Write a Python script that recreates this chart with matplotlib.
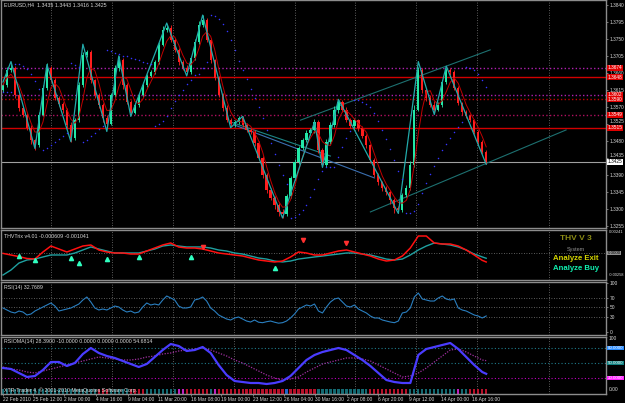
import matplotlib
matplotlib.use("Agg")
import matplotlib.pyplot as plt
import matplotlib.transforms as mtransforms
import numpy as np
import pandas as pd

plt.rcParams["font.family"] = ["Liberation Sans", "DejaVu Sans"]

# ---------------- price data (EURUSD H4, one candle per slot) ----------------
first_open = 1.3615
close = [1.3628, 1.3668, 1.3673, 1.3602, 1.3567, 1.3549, 1.3514, 1.3482, 1.3469, 1.3549,
         1.3620, 1.3673, 1.3641, 1.3594, 1.3578, 1.3562, 1.3522, 1.3488, 1.3535, 1.3628,
         1.3707, 1.3715, 1.3641, 1.3602, 1.3575, 1.3541, 1.3525, 1.3602, 1.3673, 1.3694,
         1.3628, 1.3583, 1.3554, 1.3575, 1.3602, 1.3628, 1.3652, 1.3662, 1.3689, 1.3734,
         1.3774, 1.3779, 1.3747, 1.3721, 1.3689, 1.3673, 1.3662, 1.3700, 1.3742, 1.3787,
         1.3800, 1.3747, 1.3694, 1.3647, 1.3602, 1.3567, 1.3535, 1.3525, 1.3530, 1.3541,
         1.3522, 1.3509, 1.3504, 1.3475, 1.3435, 1.3390, 1.3350, 1.3329, 1.3310, 1.3292,
         1.3287, 1.3334, 1.3382, 1.3424, 1.3461, 1.3482, 1.3501, 1.3509, 1.3530, 1.3456,
         1.3416, 1.3477, 1.3522, 1.3562, 1.3583, 1.3562, 1.3535, 1.3520, 1.3535, 1.3514,
         1.3493, 1.3469, 1.3430, 1.3390, 1.3371, 1.3355, 1.3345, 1.3324, 1.3302, 1.3297,
         1.3337, 1.3355, 1.3416, 1.3562, 1.3668, 1.3615, 1.3594, 1.3575, 1.3562, 1.3575,
         1.3636, 1.3668, 1.3662, 1.3620, 1.3580, 1.3556, 1.3546, 1.3535, 1.3504, 1.3477,
         1.3451, 1.3425]
wick_up = [6, 8, 10, 5, 4, 6, 5, 7, 4, 8, 9, 12, 6, 5, 4, 6, 5, 7, 6, 8,
           9, 6, 5, 4, 6, 5, 7, 4, 8, 10, 6, 5, 4, 6, 5, 7, 4, 6, 5, 8,
           9, 10, 7, 5, 6, 4, 8, 6, 7, 10, 12, 6, 5, 4, 6, 5, 7, 6, 5, 4,
           6, 5, 4, 6, 5, 4, 5, 6, 4, 5, 7, 5, 6, 8, 6, 5, 7, 6, 9, 5,
           6, 7, 8, 10, 6, 5, 7, 6, 5, 4, 6, 5, 4, 5, 6, 4, 5, 6, 5, 7,
           6, 8, 12, 14, 7, 6, 5, 8, 10, 9, 6, 5, 4, 6, 5, 4, 5, 6, 4, 5,
           6, 4]
wick_dn = [5, 4, 6, 8, 7, 5, 6, 9, 12, 6, 4, 5, 6, 7, 5, 8, 9, 10, 6, 4,
           5, 6, 7, 8, 9, 11, 5, 4, 6, 8, 10, 6, 5, 4, 5, 6, 5, 4, 6, 5,
           4, 5, 6, 5, 7, 6, 5, 4, 5, 6, 5, 6, 7, 5, 6, 8, 6, 5, 7, 6,
           5, 6, 7, 8, 6, 7, 8, 6, 9, 12, 10, 6, 5, 6, 5, 4, 6, 5, 8, 9,
           5, 4, 5, 6, 7, 5, 6, 5, 6, 7, 6, 7, 8, 6, 7, 8, 9, 10, 12, 9,
           6, 5, 6, 5, 4, 7, 8, 6, 5, 4, 5, 6, 7, 5, 6, 7, 6, 5, 6, 7,
           5, 6]

# zigzag pivots
zz_idx = [0, 2, 8, 11, 17, 20, 26, 29, 32, 41, 46, 50, 57, 60, 70, 78, 80, 84, 99, 104, 108, 111, 121]
zz_price = [1.3636, 1.3690, 1.3460, 1.3682, 1.3478, 1.3736, 1.3505, 1.3705, 1.3545, 1.3792,
            1.3652, 1.3813, 1.3515, 1.3545, 1.3276, 1.3530, 1.3410, 1.3590, 1.3288, 1.3690,
            1.3550, 1.3678, 1.3418]

# trend lines
trend_x0 = [58, 57, 74.5, 92]
trend_p0 = [1.3522, 1.3530, 1.3535, 1.3292]
trend_x1 = [93, 82, 122, 141]
trend_p1 = [1.3382, 1.3440, 1.3721, 1.3509]
trend_colors = ["#3a6fb0", "#1d8585", "#1d7070", "#1d7070"]

levels = [1.3674, 1.3648, 1.3602, 1.3590, 1.3549, 1.3515]
level_colors = ["#b020b0", "#d00000", "#b020b0", "#c00000", "#b01060", "#d00000"]
level_styles = [":", "-", ":", ":", ":", "-"]
last_price = 1.3425

price_ticks = [1.3840, 1.3795, 1.3750, 1.3705, 1.3660, 1.3615, 1.3570, 1.3525,
               1.3480, 1.3435, 1.3390, 1.3345, 1.3300, 1.3255]

date_pos = [0, 7.5, 15.25, 23.25, 31.25, 38.75, 47, 54.5, 62.5, 70.25, 78.25, 86.25,
            94, 101.75, 109.75, 117.5]
date_labels = ["22 Feb 2010", "25 Feb 12:00", "2 Mar 00:00", "4 Mar 16:00", "9 Mar 04:00",
               "11 Mar 20:00", "16 Mar 08:00", "19 Mar 00:00", "23 Mar 12:00", "26 Mar 04:00",
               "30 Mar 16:00", "2 Apr 08:00", "6 Apr 20:00", "9 Apr 12:00", "14 Apr 00:00",
               "16 Apr 16:00"]
week_grid = [12, 27.25, 42.5, 57.75, 73, 88.25, 103.5, 118.75, 136.75]

# ---------------- indicators ----------------
sample_idx = list(range(0, 121, 2)) + [121]
trix = [-0.46, -2.32, -4.17, -6.37, -6.95, 1.16, 8.11, 4.64, 1.16, 4.64,
        8.11, 9.27, 3.48, 1.16, 0.0, 0.0, -1.16, -1.16, 2.32, 5.80,
        9.27, 11.59, 6.95, 5.80, 5.80, 4.64, 2.32, 0.0, -1.16, -2.32,
        -3.48, -5.80, -8.11, -9.27, -10.43, -9.27, -4.64, 1.16, 0.0, -2.32,
        -2.32, 0.0, 2.32, 3.48, 1.16, -1.16, -3.48, -6.95, -9.27, -8.11,
        -3.48, 5.80, 19.70, 19.70, 11.59, 10.43, 10.43, 8.11, 3.48, -2.32,
        -8.5, -10.41]
trix_signal = [-25.5, -19.7, -11.6, -8.1, -7.0, -4.6, -2.3, -2.3, -2.3, 0.0,
               3.5, 7.0, 4.6, 2.3, 0.0, 0.0, 0.0, 0.0, 2.3, 4.6,
               8.1, 9.3, 8.1, 7.0, 7.0, 7.0, 5.8, 3.5, 2.3, 0.0,
               -1.2, -3.5, -5.8, -7.0, -9.3, -10.4, -9.3, -7.0, -5.8, -4.6,
               -3.5, -2.3, -1.2, 0.0, 0.0, -1.2, -2.3, -4.6, -7.0, -8.1,
               -7.0, -2.3, 3.5, 8.1, 11.6, 10.4, 9.3, 7.0, 3.5, -1.2,
               -4.5, -6.09]
up_arrow_idx = [4, 8, 17, 19, 26, 34, 47, 68]
up_arrow_val = [-3.5, -8.1, -5.8, -11.6, -7.0, -4.6, -4.6, -17.4]
dn_arrow_idx = [50, 75, 86]
dn_arrow_val = [6.9, 15.1, 11.6]

rsi = [49.0, 44.9, 40.8, 38.8, 42.8, 40.8, 34.7, 36.7, 42.8, 46.9,
       51.0, 55.1, 59.2, 53.0, 42.8, 44.9, 46.9, 49.0, 53.0, 57.1,
       65.3, 71.4, 61.2, 49.0, 44.9, 46.9, 44.9, 49.0, 53.0, 51.0,
       44.9, 40.8, 42.8, 38.8, 40.8, 51.0, 59.2, 55.1, 57.1, 55.1,
       65.3, 73.4, 69.4, 65.3, 53.0, 49.0, 49.0, 51.0, 65.3, 67.3,
       71.4, 63.2, 49.0, 42.8, 34.7, 30.6, 26.5, 24.5, 28.6, 30.6,
       26.5, 22.4, 20.4, 24.5, 20.0, 19.0, 21.0, 22.4, 20.0, 18.0,
       19.0, 22.4, 28.6, 36.7, 46.9, 51.0, 55.1, 53.0, 57.1, 42.8,
       38.8, 51.0, 61.2, 67.3, 69.4, 61.2, 53.0, 51.0, 55.1, 46.9,
       42.8, 38.8, 32.6, 28.6, 28.6, 24.5, 22.4, 20.4, 19.0, 22.4,
       38.8, 40.8, 49.0, 71.4, 79.6, 67.3, 65.3, 63.2, 63.2, 69.4,
       73.4, 67.3, 65.3, 67.3, 49.0, 44.9, 42.8, 38.8, 34.7, 32.6,
       28.6, 32.77]

rsioma = [40, 38, 30, 22, 24, 36, 52, 52, 44, 50,
          68, 80, 70, 64, 60, 54, 48, 42, 48, 62,
          76, 88, 84, 74, 76, 82, 70, 46, 26, 14,
          12, 10, 10, 8, 10, 14, 24, 40, 56, 66,
          72, 76, 80, 76, 66, 56, 44, 30, 16, 12,
          10, 10, 66, 78, 82, 86, 90, 78, 62, 46,
          32, 28.39]
rsioma_ma = [42, 38, 36, 32, 30, 34, 38, 42, 46, 50,
             54, 58, 62, 60, 58, 56, 56, 58, 62, 64,
             68, 70, 74, 76, 78, 80, 76, 70, 64, 56,
             50, 42, 34, 26, 20, 16, 18, 22, 32, 40,
             48, 52, 56, 60, 60, 58, 54, 46, 38, 30,
             22, 24, 30, 40, 52, 64, 76, 78, 72, 64,
             56, 54.68]
rsioma_levels = [80, 50, 20]
rsioma_level_colors = ["#1f7a8a", "#1f7a8a", "#c000c0"]
rsioma_box_colors = ["#2a8cff", "#108080", "#ff20ff"]
hist_runs = [("t", 24), ("r", 3), ("t", 5), ("r", 4), ("t", 8), ("m", 2), ("r", 6),
             ("t", 1), ("m", 1), ("r", 17), ("b", 1), ("r", 7), ("t", 13), ("r", 10),
             ("t", 12), ("m", 1), ("t", 2), ("r", 5)]
hist_colors = {"t": "#136a72", "r": "#b8102a", "m": "#c020c0", "b": "#2266cc"}

# ---------------- derived series ----------------
c = np.array(close)
o = np.r_[first_open, c[:-1]]
hi = np.maximum(o, c) + np.array(wick_up) * 1e-4
lo = np.minimum(o, c) - np.array(wick_dn) * 1e-4
idx = np.arange(len(c))
ma = pd.Series(c).rolling(4, min_periods=1).mean().to_numpy()


def psar(high, low, step=0.02, smax=0.2):
    n = len(high)
    sar = np.zeros(n)
    up = True
    af = step
    ep = high[0]
    sar[0] = low[0]
    for i in range(1, n):
        s = sar[i - 1] + af * (ep - sar[i - 1])
        if up:
            s = min(s, low[i - 1], low[max(i - 2, 0)])
            if low[i] < s:
                up, s, ep, af = False, ep, low[i], step
            elif high[i] > ep:
                ep, af = high[i], min(af + step, smax)
        else:
            s = max(s, high[i - 1], high[max(i - 2, 0)])
            if high[i] > s:
                up, s, ep, af = True, ep, high[i], step
            elif low[i] < ep:
                ep, af = low[i], min(af + step, smax)
        sar[i] = s
    return sar


sar = psar(hi, lo)

# ---------------- figure ----------------
BG = "black"
FRAME = "#8c8c8c"
TXT = "#d8d8d8"
FS = 3.5
W, H = 625, 403
fig = plt.figure(figsize=(6.25, 4.03), dpi=100, facecolor=BG)


def panel(top_px, bot_px):
    ax = fig.add_axes([1 / W, 1 - bot_px / H, 605 / W, (bot_px - top_px) / H])
    ax.set_facecolor(BG)
    for s in ax.spines.values():
        s.set_color(FRAME)
        s.set_linewidth(1.0)
    ax.set_xlim(-0.5, 151)
    ax.yaxis.tick_right()
    ax.tick_params(axis="y", colors=FRAME, labelcolor=TXT, labelsize=FS, length=1.5, pad=1.0, width=0.6)
    ax.tick_params(axis="x", bottom=False, labelbottom=False)
    for g in week_grid:
        ax.axvline(g, color="#7a7a7a", lw=0.6, ls=(0, (1, 2)), zorder=0)
    return ax


def right_box(ax, y, txt, fc, tc="white", fs=FS):
    tr = mtransforms.blended_transform_factory(ax.transAxes, ax.transData)
    ax.text(1.003, y, txt, transform=tr, fontsize=fs, color=tc, va="center", ha="left",
            bbox=dict(boxstyle="square,pad=0.1", fc=fc, ec="none"), clip_on=False, zorder=10)


def right_text(ax, y, txt, fs=FS):
    tr = mtransforms.blended_transform_factory(ax.transAxes, ax.transData)
    ax.text(1.004, y, txt, transform=tr, fontsize=fs, color=TXT, va="center", ha="left", clip_on=False)


# main price panel
ax = panel(0, 228)
ax.set_ylim(1.3853 - 0.0002647 * 228, 1.3853)
ax.set_yticks(price_ticks)
ax.set_yticklabels([f"{p:.4f}" for p in price_ticks])
ax.tick_params(axis="y", labelsize=3.4)
# the two labels sitting just above a price box are lifted clear of it
for lab in ax.get_yticklabels():
    if lab.get_text() in ("1.3525", "1.3435"):
        lab.set_va("bottom")

for lv, col, ls in zip(levels, level_colors, level_styles):
    ax.axhline(lv, color=col, lw=1.0, ls=ls, zorder=1)
ax.axhline(last_price, color="#a0a0a0", lw=0.8, zorder=1)

for x0, p0, x1, p1, col in zip(trend_x0, trend_p0, trend_x1, trend_p1, trend_colors):
    ax.plot([x0, x1], [p0, p1], color=col, lw=0.8, zorder=2)

bull = c >= o
col_candle = np.where(bull, "#22e8a6", "#ff1e1e")
ax.vlines(idx, lo, hi, colors=col_candle, lw=0.6, zorder=3)
ax.bar(idx, np.abs(c - o) + 0.00004, bottom=np.minimum(o, c), width=0.55, color=col_candle,
       edgecolor="none", zorder=4)

ax.plot(idx, ma, color="#c00000", lw=0.7, zorder=5)
ax.plot(zz_idx, zz_price, color="#22aaaa", lw=0.9, zorder=5)
ax.plot(idx, sar, ls="none", marker="o", ms=1.1, mfc="#3535ff", mec="none", zorder=6)

for lv, col in zip(levels, level_colors):
    right_box(ax, lv, f"{lv:.4f}", "#e00000", fs=3.4)
right_box(ax, last_price, f"{last_price:.4f}", "white", tc="black", fs=3.4)
ax.text(0.005, 0.99, "EURUSD,H4  1.3435 1.3443 1.3416 1.3425", transform=ax.transAxes,
        fontsize=3.8, color=TXT, va="top", ha="left")

# THV Trix panel
ax2 = panel(230, 280)
ax2.set_ylim(-0.003129, 0.002666)
ax2.set_yticks([])
ax2.axhline(0, color="#7a7a7a", lw=0.6, ls=(0, (1, 2)))
ax2.plot(sample_idx, np.array(trix_signal) * 1e-4, color="#1fa0a0", lw=1.0)
ax2.plot(sample_idx, np.array(trix) * 1e-4, color="#ff1010", lw=1.1)
ax2.plot(up_arrow_idx, np.array(up_arrow_val) * 1e-4, ls="none", marker="^", ms=3,
         mfc="#30ffc0", mec="#30ffc0")
ax2.plot(dn_arrow_idx, np.array(dn_arrow_val) * 1e-4, ls="none", marker="v", ms=3,
         mfc="#ff3030", mec="#ff3030")
right_text(ax2, 0.00241, "0.00241", fs=3.0)
right_text(ax2, -0.00258, "-0.00258", fs=2.9)
right_box(ax2, 0.0, "0.0000", "#909090", tc="black", fs=3.2)
ax2.text(0.005, 0.93, "THVTrix v4.01 -0.000609 -0.001041", transform=ax2.transAxes,
         fontsize=3.8, color=TXT, va="top", ha="left")
ax2.text(0.95, 0.90, "THV V 3", transform=ax2.transAxes, fontsize=6, fontweight="bold",
         color="#8c8c14", va="top", ha="center")
ax2.text(0.95, 0.66, "System", transform=ax2.transAxes, fontsize=4, color="#909090",
         va="top", ha="center")
ax2.text(0.95, 0.50, "Analyze Exit", transform=ax2.transAxes, fontsize=5.6, fontweight="bold",
         color="#d4d400", va="top", ha="center", zorder=12)
ax2.text(0.95, 0.30, "Analyze Buy", transform=ax2.transAxes, fontsize=5.6, fontweight="bold",
         color="#10f0b0", va="top", ha="center", zorder=12)

# RSI panel
ax3 = panel(282, 335)
ax3.set_ylim(-6.1, 102)
ax3.set_yticks([100, 70, 50, 30, 0])
ax3.set_yticklabels(["100", "70", "50", "30", "0"])
for lv in (70, 50, 30):
    ax3.axhline(lv, color="#7a7a7a", lw=0.6, ls=(0, (1, 2)))
ax3.plot(idx, rsi, color="#2a7fc0", lw=0.8)
ax3.text(0.005, 0.95, "RSI(14) 32.7689", transform=ax3.transAxes, fontsize=3.8, color=TXT,
         va="top", ha="left")

# RSIOMA panel
ax4 = panel(337, 394)
ax4.set_ylim(-12, 102)
ax4.set_yticks([])
for lv, col, bc in zip(rsioma_levels, rsioma_level_colors, rsioma_box_colors):
    ax4.axhline(lv, color=col, lw=0.8, ls=(0, (1, 2)))
    right_box(ax4, lv, f"{lv:.4f}", bc, fs=3.2)
right_text(ax4, 100, "100")
right_text(ax4, -3, "0.00")
pos = 0
for state, n in hist_runs:
    ax4.bar(np.arange(pos, pos + n), 9.5, bottom=-11, width=0.55, color=hist_colors[state],
            edgecolor="none", zorder=1)
    pos += n
ax4.plot(sample_idx, rsioma_ma, color="#a030a0", lw=0.9, ls=(0, (1, 1.2)), zorder=3)
ax4.plot(sample_idx, rsioma, color="#4a3cff", lw=1.6, zorder=4)
ax4.text(0.005, 0.96, "RSIOMA(14) 28.3900 -10.0000 0.0000 0.0000 0.0000 54.6814",
         transform=ax4.transAxes, fontsize=3.8, color=TXT, va="top", ha="left")
ax4.text(0.005, -3.5, "XTR-Trader 4, \u00a9 2001-2010 MetaQuotes Software Corp.",
         transform=mtransforms.blended_transform_factory(ax4.transAxes, ax4.transData),
         fontsize=3.8, color="#e0e0e0", va="center", ha="left", zorder=6)

ax4.set_xticks(date_pos)
ax4.set_xticklabels(date_labels)
ax4.tick_params(axis="x", bottom=True, labelbottom=True, colors=FRAME, labelcolor=TXT,
                labelsize=FS, length=1.5, pad=1, width=0.6)
for lab in ax4.get_xticklabels():
    lab.set_ha("left")

fig.savefig("out.png", dpi=100, facecolor=BG)
